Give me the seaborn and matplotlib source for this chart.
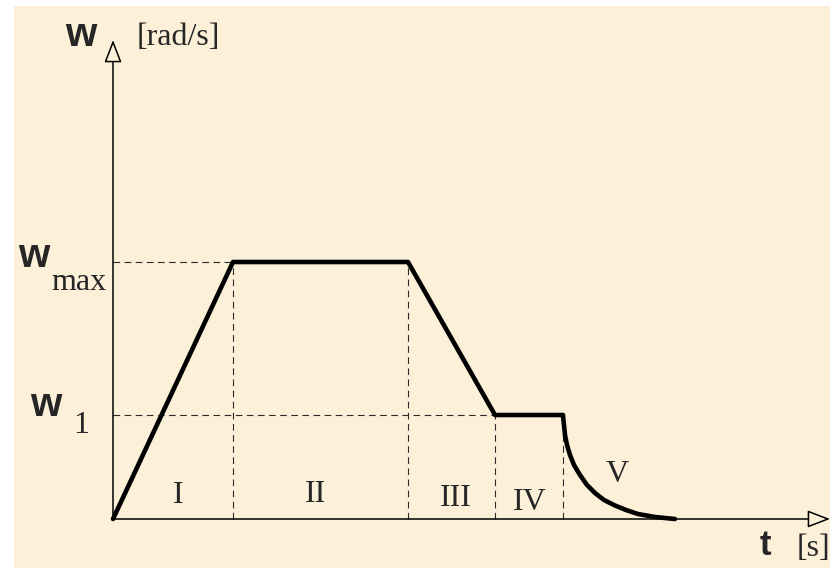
import matplotlib.pyplot as plt
from matplotlib.patches import Rectangle
import seaborn as sns
import pandas as pd

# speed profile (t in s, w in rad/s, arbitrary units)
w_max = 2.57
w_1 = 1.04
t_phase = [1.20, 2.95, 3.82, 4.50]  # ends of phases I..IV
# phase V: run-down curve
t_curve = [4.503, 4.51, 4.52, 4.54, 4.57, 4.61, 4.67, 4.74,
           4.82, 4.91, 5.02, 5.13, 5.25, 5.42, 5.62]
w_curve = [1.00, 0.94, 0.84, 0.74, 0.64, 0.54, 0.44, 0.34,
           0.26, 0.19, 0.135, 0.09, 0.05, 0.02, 0.0]

t = [0.0, t_phase[0], t_phase[1], t_phase[2], t_phase[3]] + t_curve
w = [0.0, w_max, w_max, w_1, w_1] + w_curve
profile = pd.DataFrame({"t": t, "w": w})

phases = ["I", "II", "III", "IV", "V"]
phase_x = [0.65, 2.02, 3.43, 4.17, 5.04]
phase_y = [0.16, 0.17, 0.13, 0.09, 0.37]

bg = "#fcf0d8"
sns.set_style("white")

fig = plt.figure(figsize=(8.3, 5.68), dpi=100, facecolor="white")
ax = fig.add_axes([0, 0, 1, 1])
ax.set_facecolor("none")
ax.add_patch(Rectangle((14 / 830, 0), 1, 562 / 568, transform=fig.transFigure,
                       facecolor=bg, edgecolor="none", zorder=0))

# guide lines
dash = dict(color="#2a2a2a", lw=0.8, ls=(0, (6, 4)), zorder=1)
ax.plot([0, t_phase[0]], [w_max, w_max], **dash)
ax.plot([0, t_phase[2]], [w_1, w_1], **dash)
ax.plot([t_phase[0]] * 2, [0, w_max], **dash)
ax.plot([t_phase[1]] * 2, [0, w_max], **dash)
ax.plot([t_phase[2]] * 2, [0, w_1], **dash)
ax.plot([t_phase[3]] * 2, [0, w_1], **dash)

# axes with open arrow heads
arrow = dict(arrowstyle="-|>,head_length=14,head_width=5.4", mutation_scale=1,
             lw=1.1, color="black", fc=bg, shrinkA=0, shrinkB=0)
ax.annotate("", xy=(0, 4.79), xytext=(0, 0), arrowprops=arrow, zorder=2)
ax.annotate("", xy=(7.17, 0), xytext=(-0.005, 0), arrowprops=arrow, zorder=2)

sns.lineplot(data=profile, x="t", y="w", sort=False, color="black", lw=3.3,
             ax=ax, zorder=3, solid_joinstyle="round", solid_capstyle="round")
ax.set_xlim(-1.13, 7.17)
ax.set_ylim(-0.49, 5.19)
ax.axis("off")

serif = dict(family="Liberation Serif", fontsize=23, va="baseline")
bold = dict(family="Liberation Sans", fontweight="bold", va="baseline")

ax.text(-0.48, 4.73, "w", fontsize=29, ha="left", **bold)
ax.text(0.24, 4.74, "[rad/s]", ha="left", **serif)
ax.text(-0.95, 2.52, "w", fontsize=29, ha="left", **bold)
ax.text(-0.62, 2.29, "max", ha="left", **serif)
ax.text(-0.83, 1.03, "w", fontsize=29, ha="left", **bold)
ax.text(-0.40, 0.86, "1", ha="left", **serif)
ax.text(6.47, -0.36, "t", fontsize=25, ha="left", **bold)
ax.text(6.84, -0.37, "[s]", ha="left", **serif)

for lab, x, y in zip(phases, phase_x, phase_y):
    ax.text(x, y, lab, ha="center", **serif)

fig.savefig("out.png", dpi=100, facecolor="white")
